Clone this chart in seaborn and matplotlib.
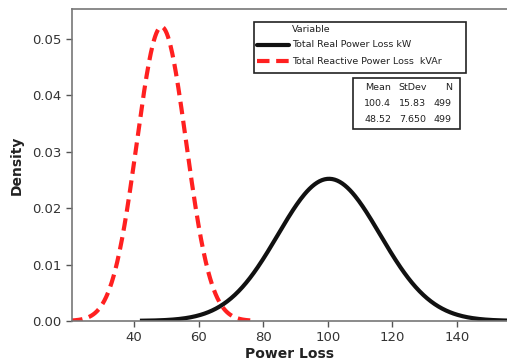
import numpy as np
import pandas as pd
import matplotlib.pyplot as plt
import seaborn as sns
from matplotlib.patches import Rectangle

# fitted normal parameters
variables = ['Total Real Power Loss kW', 'Total Reactive Power Loss  kVAr']
means = [100.4, 48.52]
stdevs = [15.83, 7.650]
counts = [499, 499]
mean_labels = ['100.4', '48.52']
sd_labels = ['15.83', '7.650']

# build the fitted density curves (Minitab style, about +/- 3.7 sd)
rows = []
for name, m, s in zip(variables, means, stdevs):
    xs = np.linspace(m - 3.7 * s, m + 3.7 * s, 300)
    ys = np.exp(-0.5 * ((xs - m) / s) ** 2) / (s * np.sqrt(2 * np.pi))
    rows.append(pd.DataFrame({'Power Loss': xs, 'Density': ys, 'Variable': name}))
df = pd.concat(rows, ignore_index=True)

sns.set_style('white')
plt.rcParams['font.family'] = ['DejaVu Sans']

fig = plt.figure(figsize=(5.07, 3.63), dpi=100)
ax = fig.add_axes([0.142, 0.116, 0.858, 0.859])

sns.lineplot(data=df, x='Power Loss', y='Density', hue='Variable', style='Variable',
             palette=['#111111', '#ff2020'], dashes=[(1, 0), (3, 1.6)],
             linewidth=3, ax=ax, legend=False)

ax.set_xlim(20.8, 155.5)
ax.set_ylim(0, 0.0553)
ax.set_xticks([40, 60, 80, 100, 120, 140])
ax.set_yticks([0.0, 0.01, 0.02, 0.03, 0.04, 0.05])
ax.set_yticklabels(['0.00', '0.01', '0.02', '0.03', '0.04', '0.05'])
ax.tick_params(axis='both', labelsize=9.5, colors='#555555', labelcolor='#333333',
               length=4, direction='out', width=1)
ax.tick_params(left=True, bottom=True)
for side in ['left', 'top', 'bottom']:
    ax.spines[side].set_color('#777777')
    ax.spines[side].set_linewidth(1.2)
ax.spines['right'].set_visible(False)
ax.set_xlabel('Power Loss', fontsize=10, fontweight='bold', color='#222222', labelpad=2)
ax.set_ylabel('Density', fontsize=10, fontweight='bold', color='#222222', labelpad=6)

# legend box
tr = ax.transAxes
ax.add_patch(Rectangle((0.418, 0.795), 0.488, 0.163, transform=tr, fill=False,
                       edgecolor='#222222', linewidth=1.2, zorder=5))
ax.text(0.506, 0.935, 'Variable', transform=tr, fontsize=6.8, va='center', color='#222222')
leg_y = [0.885, 0.833]
leg_col = ['#111111', '#ff2020']
leg_ls = ['-', (0, (3, 1.6))]
for y, name, c, ls in zip(leg_y, variables, leg_col, leg_ls):
    ax.plot([0.425, 0.5], [y, y], transform=tr, color=c, linestyle=ls, linewidth=3)
    ax.text(0.506, y, name, transform=tr, fontsize=6.8, va='center', color='#222222')

# stats table
ax.add_patch(Rectangle((0.646, 0.615), 0.246, 0.164, transform=tr, fill=False,
                       edgecolor='#222222', linewidth=1.2, zorder=5))
row_y = [0.747, 0.696, 0.647]
ax.text(0.703, row_y[0], 'Mean', transform=tr, fontsize=6.8, ha='center', va='center', color='#222222')
ax.text(0.783, row_y[0], 'StDev', transform=tr, fontsize=6.8, ha='center', va='center', color='#222222')
ax.text(0.873, row_y[0], 'N', transform=tr, fontsize=6.8, ha='right', va='center', color='#222222')
for y, ml, sl, n in zip(row_y[1:], mean_labels, sd_labels, counts):
    ax.text(0.703, y, ml, transform=tr, fontsize=6.8, ha='center', va='center', color='#222222')
    ax.text(0.814, y, sl, transform=tr, fontsize=6.8, ha='right', va='center', color='#222222')
    ax.text(0.873, y, str(n), transform=tr, fontsize=6.8, ha='right', va='center', color='#222222')

fig.savefig('out.png', dpi=100)
